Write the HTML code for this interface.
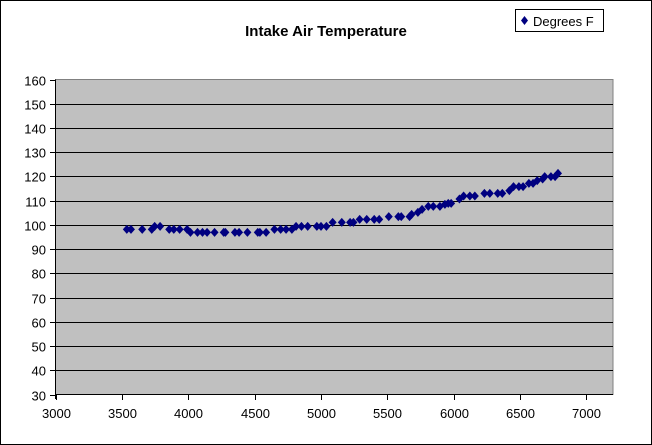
<!DOCTYPE html>
<html><head><meta charset="utf-8"><style>
html,body{margin:0;padding:0;background:#fff}
svg{display:block}
text{font-family:"Liberation Sans",Arial,sans-serif;fill:#000}
</style></head><body>
<svg id="s" width="652" height="445" xmlns="http://www.w3.org/2000/svg">
<rect x="0.5" y="0.5" width="651" height="444" fill="#fff" stroke="#000"/>
<text x="326" y="36" font-size="15" font-weight="bold" text-anchor="middle">Intake Air Temperature</text>
<rect x="515.5" y="9.5" width="88" height="22" fill="#fff" stroke="#000"/>
<path d="M524.5 16 L528 20.5 L524.5 25 L521 20.5Z" fill="#000080"/>
<text x="533" y="26" font-size="13">Degrees F</text>
<rect x="55.5" y="79.5" width="557.5" height="315" fill="#c0c0c0" stroke="#808080"/>
<g id="g"></g>
</svg>
<script>
var s=document.getElementById('g'),h='';
var L=55.5,R=586.3,T=79.5,B=394.5;
function X(v){return L+(v-3000)*(R-L)/4000}
function Y(v){return B-(v-30)*(B-T)/130}
for(var v=30;v<=160;v+=10){var y=Math.round(Y(v))+0.5;
 if(v>30&&v<160)h+='<line x1="55.5" x2="613" y1="'+y+'" y2="'+y+'" stroke="#000"/>';
 h+='<line x1="50" x2="55.5" y1="'+y+'" y2="'+y+'" stroke="#000"/>';
 h+='<text x="46" y="'+(y+5)+'" font-size="13" text-anchor="end">'+v+'</text>';}
h+='<line x1="55.5" x2="55.5" y1="79.5" y2="399" stroke="#000"/>';
h+='<line x1="55.5" x2="613" y1="394.5" y2="394.5" stroke="#000"/>';
for(var v=3000;v<=7000;v+=500){var x=Math.round(X(v))+0.5;
 h+='<line x1="'+x+'" x2="'+x+'" y1="394.5" y2="400" stroke="#000"/>';
 h+='<text x="'+x+'" y="418" font-size="13" text-anchor="middle">'+v+'</text>';}
var p=[[305,688],[315,688],[342,688],[365,688],[372,679],[385,679],[407,688],[418,688],[432,688],[450,688],[458,697],[475,697],[487,697],[498,697],[516,697],[538,697],[542,697],[565,697],[575,697],[595,697],[620,697],[625,697],[640,697],[660,688],[675,688],[688,688],[702,688],[712,679],[725,679],[740,679],[762,679],[772,679],[785,679],[800,667],[822,667],[842,667],[850,667],[865,658],[882,658],[900,658],[912,658],[935,650],[958,650],[965,650],[985,650],[990,643],[1005,637],[1015,628],[1030,619],[1042,619],[1058,619],[1070,613],[1078,610],[1085,610],[1105,597],[1115,588],[1130,588],[1142,588],[1165,580],[1178,580],[1197,580],[1208,580],[1225,572],[1235,560],[1248,560],[1258,560],[1272,550],[1282,550],[1292,542],[1305,537],[1310,530],[1325,530],[1335,530],[1342,520]];
p.forEach(function(q){var x=q[0]/2.405,y=q[1]/3;
 h+='<path d="M'+x+' '+(y-4.5)+'L'+(x+4)+' '+y+'L'+x+' '+(y+4.5)+'L'+(x-4)+' '+y+'Z" fill="#000080"/>';});
s.innerHTML=h;
</script>
</body></html>
